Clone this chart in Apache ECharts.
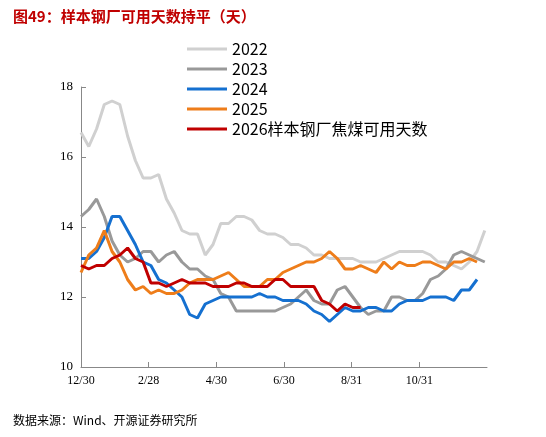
<!DOCTYPE html>
<html><head><meta charset="utf-8">
<script src="https://cdn.jsdelivr.net/npm/echarts@6/dist/echarts.min.js"></script>
<style>body{margin:0}#c{width:546px;height:437px}</style></head>
<body><div id="c"></div>
<script>
const tickLabels=['12/30','2/28','4/30','6/30','8/31','10/31'];
const s2022=[16.7,16.3,16.8,17.5,17.6,17.5,16.6,15.9,15.4,15.4,15.5,14.8,14.4,13.9,13.8,13.8,13.2,13.5,14.1,14.1,14.3,14.3,14.2,13.9,13.8,13.8,13.7,13.5,13.5,13.4,13.2,13.2,13.1,13.1,13.1,13.1,13.0,13.0,13.0,13.1,13.2,13.3,13.3,13.3,13.3,13.2,13.0,13.0,12.9,12.8,13.0,13.3,13.9];
const s2023=[14.3,14.5,14.8,14.3,13.6,13.2,13.0,13.1,13.3,13.3,13.0,13.2,13.3,13.0,12.8,12.8,12.6,12.5,12.1,12.0,11.6,11.6,11.6,11.6,11.6,11.6,11.7,11.8,12.0,12.2,11.9,11.8,11.8,12.2,12.3,12.0,11.7,11.5,11.6,11.6,12.0,12.0,11.9,11.9,12.1,12.5,12.6,12.8,13.2,13.3,13.2,13.1,13.0];
const s2024=[13.1,13.1,13.3,13.7,14.3,14.3,13.9,13.5,13.0,12.9,12.5,12.4,12.2,12.0,11.5,11.4,11.8,11.9,12.0,12.0,12.0,12.0,12.0,12.1,12.0,12.0,11.9,11.9,11.9,11.8,11.6,11.5,11.3,11.5,11.7,11.6,11.6,11.7,11.7,11.6,11.6,11.8,11.9,11.9,11.9,12.0,12.0,12.0,11.9,12.2,12.2,12.5];
const s2025=[12.7,13.2,13.4,13.9,13.3,13.0,12.5,12.2,12.3,12.1,12.2,12.1,12.1,12.2,12.4,12.5,12.5,12.5,12.6,12.7,12.5,12.3,12.3,12.3,12.5,12.5,12.7,12.8,12.9,13.0,13.0,13.1,13.3,13.1,12.8,12.8,12.9,12.8,12.7,13.0,12.8,13.0,12.9,12.9,13.0,13.0,12.9,12.8,13.0,13.0,13.1,13.0];
const s2026=[12.9,12.8,12.9,12.9,13.1,13.2,13.4,13.1,13.0,12.4,12.4,12.3,12.4,12.5,12.4,12.4,12.4,12.3,12.3,12.3,12.4,12.4,12.3,12.3,12.3,12.5,12.5,12.3,12.3,12.3,12.3,11.9,11.8,11.6,11.8,11.7,11.7];
const toPts=a=>a.map((v,i)=>[i*7,v]);
const mk=(name,data,color)=>({name,type:'line',data:toPts(data),symbol:'none',lineStyle:{width:3,color},itemStyle:{color}});
echarts.init(document.getElementById('c')).setOption({
  animation:false,
  title:[{text:'图49：样本钢厂可用天数持平（天）',left:8,top:4,textStyle:{fontSize:15,fontWeight:'bold',color:'#c00000',fontFamily:'Noto Sans CJK SC'}},
         {text:'数据来源：Wind、开源证券研究所',left:8,bottom:6,textStyle:{fontSize:12,fontWeight:'normal',color:'#000',fontFamily:'Noto Sans CJK SC'}}],
  legend:{orient:'vertical',left:182,top:36,itemWidth:40,itemHeight:3,itemGap:4,icon:'rect',
    textStyle:{fontSize:16,color:'#000',fontFamily:'Noto Sans CJK SC'},
    data:['2022','2023','2024','2025','2026样本钢厂焦煤可用天数']},
  grid:{left:81,right:59,top:87,bottom:70},
  xAxis:{type:'value',min:0,max:366,interval:61,
    axisLine:{lineStyle:{color:'#888'}},axisTick:{show:true,inside:true,lineStyle:{color:'#888'}},splitLine:{show:false},
    axisLabel:{color:'#000',fontSize:12,fontFamily:'Liberation Serif',showMaxLabel:false,formatter:(v)=>tickLabels[Math.round(v/61)]||''}},
  yAxis:{type:'value',min:10,max:18,interval:2,
    axisLine:{show:true,lineStyle:{color:'#888'}},axisTick:{show:true,inside:true,lineStyle:{color:'#888'}},splitLine:{show:false},
    axisLabel:{color:'#000',fontSize:13,fontFamily:'Liberation Serif'}},
  series:[mk('2022',s2022,'#d0d0d0'),mk('2023',s2023,'#999999'),mk('2024',s2024,'#1570d0'),mk('2025',s2025,'#ee7d1a'),mk('2026样本钢厂焦煤可用天数',s2026,'#c00000')]
});
</script></body></html>
